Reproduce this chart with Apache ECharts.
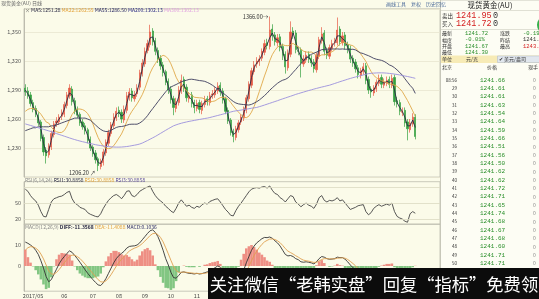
<!DOCTYPE html>
<html><head><meta charset="utf-8">
<script src="https://cdn.jsdelivr.net/npm/echarts@6/dist/echarts.min.js"></script>
<style>html,body{margin:0;padding:0;background:#fbfbe9;}#c{width:539px;height:299px;}</style>
</head><body><div id="c"></div>
<script>
// ---------------- data ----------------
const nCats = 160;
const monthTicks = [[3,'2017/05'],[15,'06'],[26,'07'],[36,'08'],[46,'09'],[56,'10'],[66,'11'],[76,'12'],[86,'2018/01'],[97,'02'],[107,'03'],[117,'04'],[128,'05'],[138,'06'],[148,'07']];
const opens=[1292,1289,1285,1277,1271,1264,1257,1241,1228,1223,
1231,1244,1256,1257,1263,1265,1274,1284,1291,1279,
1270,1265,1257,1253,1249,1239,1231,1225,1219,1211,
1215,1225,1235,1245,1253,1261,1269,1267,1259,1269,
1283,1289,1281,1286,1293,1307,1317,1331,1337,1351,
1341,1331,1323,1316,1309,1299,1291,1281,1271,1277,
1289,1301,1293,1281,1285,1277,1271,1277,1269,1275,
1281,1277,1285,1285,1289,1295,1289,1281,1269,1259,
1247,1241,1249,1257,1261,1269,1281,1295,1309,1317,
1319,1323,1329,1339,1335,1353,1347,1339,1345,1335,
1327,1313,1327,1351,1349,1331,1331,1317,1321,1327,
1323,1319,1311,1325,1341,1349,1331,1325,1333,1339,
1339,1353,1339,1347,1337,1333,1323,1319,1313,1305,
1309,1315,1301,1291,1287,1291,1297,1303,1295,1297,
1301,1295,1303,1279,1277,1267,1269,1257,1249,1255,
1262];
const closes=[1288,1284,1276,1270,1265,1256,1240,1226,1222,1232,
1245,1255,1258,1262,1266,1275,1285,1292,1278,1268,
1264,1256,1252,1248,1238,1230,1224,1218,1212,1216,
1226,1236,1246,1254,1262,1268,1266,1260,1270,1284,
1288,1282,1285,1292,1308,1318,1330,1338,1350,1340,
1330,1322,1315,1308,1298,1290,1280,1272,1278,1290,
1300,1292,1282,1284,1276,1272,1276,1270,1276,1280,
1278,1284,1286,1290,1294,1288,1280,1268,1258,1246,
1242,1250,1256,1262,1270,1282,1296,1310,1316,1320,
1322,1330,1338,1336,1352,1346,1340,1344,1334,1326,
1314,1328,1350,1348,1332,1330,1318,1322,1326,1322,
1318,1312,1326,1342,1348,1330,1326,1334,1338,1340,
1352,1340,1346,1336,1332,1322,1318,1312,1306,1310,
1314,1300,1290,1288,1292,1298,1302,1296,1298,1300,
1296,1302,1278,1276,1268,1268,1256,1250,1256,1262,
1241.95];
const highs=[1296,1293,1288,1280,1274,1267,1259,1244,1231,1235,
1248,1258,1262,1265,1270,1278,1288,1296,1294,1282,
1273,1267,1260,1256,1251,1242,1233,1228,1221,1219,
1229,1239,1249,1257,1266,1272,1273,1270,1274,1288,
1292,1292,1289,1296,1311,1322,1334,1342,1357.5,1354,
1344,1334,1326,1319,1311,1302,1294,1284,1282,1294,
1306,1304,1296,1288,1288,1280,1280,1280,1279,1284,
1284,1288,1290,1293,1298,1298,1292,1283,1272,1261,
1250,1253,1259,1265,1273,1285,1299,1313,1320,1324,
1326,1333,1342,1343,1366,1358,1350,1348,1348,1338,
1330,1332,1361,1355,1352,1335,1334,1326,1330,1330,
1326,1322,1329,1345,1355,1352,1334,1337,1342,1344,
1365,1356,1350,1350,1340,1336,1326,1322,1316,1313,
1318,1318,1304,1294,1295,1301,1306,1306,1302,1304,
1304,1306,1306,1283,1280,1272,1272,1260,1260,1266,
1265];
const lows=[1284,1281,1273,1267,1262,1253,1237,1222,1214,1220,
1228,1241,1252,1254,1259,1262,1271,1281,1274,1265,
1261,1253,1249,1244,1235,1227,1221,1214,1206.2,1208,
1212,1222,1232,1242,1250,1258,1262,1256,1256,1266,
1279,1278,1278,1283,1290,1304,1314,1328,1334,1336,
1326,1318,1311,1304,1295,1286,1276,1264,1267,1274,
1286,1288,1278,1277,1272,1266,1268,1266,1265,1272,
1274,1274,1281,1282,1286,1284,1276,1265,1255,1243,
1236,1238,1246,1254,1258,1266,1278,1292,1306,1313,
1315,1320,1326,1332,1332,1341,1336,1335,1330,1321,
1307,1310,1324,1343,1328,1326,1303,1314,1318,1318,
1314,1308,1308,1322,1338,1326,1322,1322,1330,1335,
1336,1336,1336,1332,1328,1318,1314,1308,1302,1302,
1306,1296,1286,1282,1284,1288,1294,1292,1292,1294,
1292,1292,1274,1272,1264,1263,1252,1238,1246,1252,
1239];
const ma5=[1290,1286,1280,1273,1268,1261,1250,1235,1225,1227,
1238,1250,1256,1260,1264,1270,1279,1287,1285,1274,
1266,1260,1254,1250,1243,1234,1227,1221,1215,1214,
1220,1230,1240,1250,1258,1265,1267,1263,1265,1276,
1286,1285,1284,1288,1299,1312,1324,1334,1344,1345,
1336,1326,1318,1312,1303,1294,1285,1276,1275,1283,
1294,1296,1287,1283,1280,1274,1274,1273,1273,1278,
1279,1281,1285,1288,1292,1291,1284,1275,1263,1252,
1244,1246,1253,1259,1266,1276,1289,1303,1313,1318,
1321,1326,1334,1337,1344,1349,1343,1342,1339,1330,
1320,1321,1339,1349,1340,1331,1324,1320,1324,1324,
1320,1315,1319,1334,1345,1339,1328,1330,1336,1339,
1346,1346,1343,1341,1334,1327,1320,1315,1309,1308,
1312,1307,1295,1289,1290,1295,1300,1299,1297,1299,
1298,1299,1290,1277,1272,1268,1262,1253,1253,1259,
1251.28];
const ma22=[1268,1270,1271,1271,1270,1268,1265,1261,1257,1255.9,
1251.6,1248.7,1246.9,1246.1,1246.2,1248.1,1252.6,1259.2,1264.8,1268.4,
1270.3,1270.4,1269.8,1268.4,1265.6,1261.1,1255,1247.6,1241,1235.8,
1232,1230,1229.4,1230,1232.4,1236.2,1240.4,1244.6,1250.4,1257.2,
1263.4,1268,1271.9,1275.7,1280.3,1285.3,1291.7,1299.5,1307.5,1313.1,
1317.3,1321.3,1324.3,1325.9,1324.9,1322.1,1317.1,1310.5,1303.3,1298.3,
1295.3,1292.3,1289,1286.6,1284.4,1282.6,1282.2,1282,1281.8,1280.8,
1278.6,1277.8,1278.2,1278.8,1280.6,1282.2,1282.6,1282.4,1280.6,1277.2,
1273.6,1270.2,1267.2,1264.4,1262,1261.4,1263,1267.2,1273,1280.4,
1288.4,1296.4,1304.6,1312,1320.2,1326.6,1331,1334.4,1336.2,1336.8,
1336,1335.8,1337,1338.2,1336.2,1334.6,1332.4,1330.2,1329.4,1329,
1329.4,1327.8,1325.4,1324.8,1326.4,1326.4,1327.2,1328.4,1329.6,1331.4,
1334.8,1337.6,1339.6,1339,1337.4,1336.6,1335.8,1333.6,1330.4,1327.4,
1323.6,1319.6,1314,1309.2,1305.2,1302.8,1301.2,1299.6,1298.8,1297.8,
1296,1296.2,1295,1293.8,1291.4,1288.4,1283.8,1279.2,1274,1268.5,
1262.55];
const ma55=[1248,1249,1250,1251,1251,1252,1252,1252,1252,1252,
1253,1253,1254,1255,1256,1257,1258,1259,1260,1261,
1261,1261,1261,1261,1260,1258.9,1256.4,1253.9,1251.4,1249.3,
1247.8,1247.1,1247.3,1248.4,1249.9,1251.3,1252.1,1252.3,1252.8,1253.6,
1254.5,1254.7,1254.7,1254.7,1255.9,1257.8,1260.3,1263.5,1267.3,1270.8,
1274.3,1277.9,1281.4,1284.8,1288.2,1291,1293.1,1294.5,1295.7,1297.1,
1298.5,1299.5,1300.1,1301,1301.2,1300.8,1300.3,1299.8,1299.5,1299,
1297.9,1296.6,1294.9,1293,1290.9,1288.9,1287,1284.9,1282.7,1280.3,
1278.2,1276.6,1275.7,1275.3,1275,1274.7,1274.5,1275.2,1276.5,1277.9,
1279.7,1281.9,1284.3,1286.8,1289.8,1292.3,1294.7,1297,1298.8,1300.2,
1301,1302.5,1305.2,1308.3,1311.2,1314.4,1317.3,1320.1,1322.8,1325.1,
1326.9,1328.1,1329.2,1330.5,1331.7,1332.1,1332.2,1332.4,1332.4,1332.5,
1332.5,1332.3,1332.5,1332.2,1332.2,1332,1332.2,1331.5,1329.8,1328.4,
1327.7,1326.5,1325.5,1324.2,1322.8,1321.9,1321.3,1320.7,1319.6,1318,
1316,1314.9,1313.1,1310.8,1308.2,1305.4,1301.7,1298.2,1294.8,1291.9,
1286.5];
const ma200=[1255,1254.2,1253.4,1252.6,1251.8,1251,1250.2,1249.4,1248.6,1247.8,
1247,1246,1245,1244.1,1243.2,1242.3,1241.4,1240.5,1239.6,1238.8,
1238,1237.3,1236.6,1236,1235.3,1234.7,1234.1,1233.5,1233,1232.6,
1232.2,1231.8,1231.5,1231.3,1231.1,1231,1231,1231.1,1231.3,1231.6,
1232,1232.5,1233,1233.5,1234.2,1235.2,1236.5,1237.8,1239.2,1240.6,
1242,1243.6,1245.2,1246.8,1248.4,1250,1251.5,1253,1254,1254.9,
1255.7,1256.4,1257,1257.6,1258.1,1258.6,1259.1,1259.6,1260.1,1260.6,
1261,1261.6,1262.3,1263,1263.7,1264.4,1265.1,1265.8,1266.6,1267.3,
1268,1268.5,1268.9,1269.3,1269.8,1270.2,1270.7,1271.2,1271.6,1272,
1272.8,1273.6,1274.5,1275.4,1276.3,1277.2,1278.1,1279,1280,1280.9,
1281.8,1282.7,1283.6,1284.5,1285.5,1286.3,1287.1,1287.9,1288.7,1289.5,
1290.2,1291,1291.7,1292.4,1293.1,1293.7,1294.4,1295,1295.9,1296.8,
1297.7,1298.6,1299.5,1300.3,1301.2,1302,1302.8,1303.5,1304.2,1304.9,
1305.6,1306.3,1307,1307.3,1307.5,1307.7,1307.8,1307.8,1307.7,1307.5,
1307.2,1306.9,1306.5,1306.1,1305.6,1305.1,1304.5,1304,1303.4,1302.8,
1302.13];
const ma300Last = 1302.13;
const rsi=[76,72,64,58,54,46,34,25,24,38,
52,58,60,62,63,66,70,72,58,50,
47,42,40,38,32,29,27,25,24,30,
40,48,55,60,64,66,63,58,64,72,
73,64,62,66,72,75,78,80,82,72,
64,58,54,50,44,40,35,32,40,50,
56,50,44,46,42,40,44,42,47,50,
48,53,55,57,58,52,45,38,33,27,
26,36,44,50,57,64,71,76,78,79,
78,80,81,78,82,74,68,66,60,57,
52,58,64,62,52,48,43,47,50,46,
44,40,48,60,64,55,52,55,54,56,
60,54,56,50,44,38,40,42,45,46,
47,34,28,32,40,44,47,44,46,48,
46,50,34,25,22,20,16,14,30,34,
30.8858];
const dif=[11.4,10.8,10,9,7.5,5.5,2.5,-1,-5,-7.5,
-6.5,-4,-1.5,1,3,4.5,6,7.2,6.5,5,
3.5,1.8,0,-1.8,-3.5,-5,-6.5,-7.8,-9,-9.3,
-8,-6,-3.5,-1,1.5,3.5,5,6,7,8.5,
9.3,9.5,9.6,10,11,12.5,14,15.5,16.8,17.2,
16,14,11,7.5,3.5,0.5,-3,-5.5,-5.8,-4.5,
-3,-2.8,-3.2,-3.5,-3.6,-3.8,-3.5,-3.8,-3.6,-3.2,
-2.8,-2.2,-1.5,-0.8,0,-0.5,-1.8,-3.5,-5.5,-7.5,
-9,-9,-7.5,-5,-2,1.5,4.5,7.5,9.5,11,
12,13,13.6,13.5,13.8,13.2,12,11,9.5,7.5,
5.5,4.8,5,4.5,3.5,3,2,1.8,2,1.8,
1.5,1,2,3.5,4.5,4.2,3.5,3.2,3.3,3.5,
4.2,4,4,3.2,2,0.5,-0.8,-2,-3.5,-4.2,
-4.5,-5.5,-7,-8,-8.2,-8,-7.5,-7.2,-6.8,-6.4,
-6.2,-5.8,-6.8,-8,-9.2,-10,-11.2,-12.2,-12,-11.5,
-11.3568];
const dea=[7.5,8.7,9.2,9.1,8.5,7.5,5.7,3.4,0.5,-2.3,
-3.8,-3.9,-3.1,-1.7,-0.1,1.5,3.1,4.5,5.2,5.1,
4.5,3.6,2.3,0.9,-0.6,-2.1,-3.6,-5.1,-6.5,-7.5,
-7.7,-7.1,-5.8,-4.1,-2.1,-0.1,1.7,3.2,4.5,5.9,
7.1,7.9,8.5,9,9.7,10.7,11.9,13.2,14.5,15.4,
15.6,15,13.6,11.5,8.7,5.8,2.7,-0.2,-2.2,-3,
-3,-2.9,-3,-3.2,-3.3,-3.5,-3.5,-3.6,-3.6,-3.5,
-3.2,-2.9,-2.4,-1.8,-1.2,-1,-1.3,-2.1,-3.3,-4.8,
-6.3,-7.2,-7.3,-6.5,-4.9,-2.7,-0.2,2.5,5,7.1,
8.8,10.3,11.5,12.2,12.8,12.9,12.6,12,11.1,9.8,
8.3,7.1,6.4,5.7,4.9,4.2,3.4,2.8,2.5,2.3,
2,1.7,1.8,2.4,3.1,3.5,3.5,3.4,3.4,3.4,
3.7,3.8,3.9,3.7,3.1,2.2,1.2,0.1,-1.2,-2.3,
-3.1,-3.9,-5,-6.1,-6.8,-7.2,-7.3,-7.3,-7.1,-6.9,
-6.7,-6.4,-6.5,-7,-7.8,-8.6,-9.5,-10.4,-11,-11.2,
-11.4088];
const macdHist=[7.8,4.2,1.6,-0.2,-2,-4,-6.4,-8.8,-11,-10.4,
-5.4,-0.2,3.2,5.4,6.2,6,5.8,5.4,2.6,-0.2,
-2,-3.6,-4.6,-5.4,-5.8,-5.8,-5.8,-5.4,-5,-3.6,
-0.6,2.2,4.6,6.2,7.2,7.2,6.6,5.6,5,5.2,
4.4,3.2,2.2,3,5,7,8,8.6,7.5,5,
0.8,-2,-5.2,-8,-10.4,-10.6,-11.4,-10.6,-7.2,-3,
0,0.2,-0.4,-0.6,-0.6,-0.6,0,-0.4,0,0.6,
0.8,1.4,1.8,2,2.4,1,-1,-2.8,-4.4,-5.4,
-5.4,-3.6,-0.4,3,5.8,8.4,9.4,10,9,7.8,
6.4,5.4,4.2,2.6,2,0.6,-1.2,-2,-3.2,-4.6,
-5.6,-4.6,-2.8,-2.4,-2.8,-2.4,-2.8,-2,-1,-1,
-1,-1.4,0.4,2.2,2.8,1.4,0,-0.4,-0.2,0.2,
1,0.4,0.2,-1,-2.2,-3.4,-4,-4.2,-4.6,-3.8,
-2.8,-3.2,-4,-3.8,-2.8,-1.6,-0.4,0.2,0.6,1,
1,1.2,-0.6,-2,-2.8,-2.8,-3.4,-3.6,-2,-0.6,
0.1036];
// quote panel
const bidAsk = [['卖出','1241.95','0'],['买入','1241.72','0']];
const infoRows = [[['最新','#333'],['1241.72','#2a8f2a'],['涨跌','#333'],['-0.19','#2a8f2a']],
                  [['幅度','#333'],['-0.01%','#2a8f2a'],['昨结','#333'],['1241.91','#333']],
                  [['开盘','#333'],['1241.67','#2a8f2a'],['最高','#333'],['1243.60','#d42020']],
                  [['最低','#333'],['1241.30','#2a8f2a']]];
const tickTimes=['08:56','29','30','31','32','33','34','35','36','37','38','39','40','41','42','43','44','45','46','47','48','49','50'];
const tickPrices=['1241.66','1241.61','1241.61','1241.63','1241.54','1241.64','1241.59','1241.66','1241.51','1241.56','1241.50','1241.62','1241.62','1241.72','1241.71','1241.65','1241.74','1241.68','1241.67','1241.68','1241.60','1241.71','1241.71'];

// ---------------- build ----------------
const cats = [];
for (let i = 0; i < nCats; i++) cats.push('');
monthTicks.forEach(([i, t]) => { cats[i] = t; });
const kData = opens.map((o, i) => [o, closes[i], lows[i], highs[i]]);
let hiIdx = 0, loIdx = 0;
highs.forEach((v, i) => { if (v > highs[hiIdx]) hiIdx = i; });
lows.forEach((v, i) => { if (v < lows[loIdx]) loIdx = i; });
const UP = '#e65a45', DN = '#35a040';
const FONT = '"Noto Sans CJK SC","Liberation Sans",sans-serif';
const MONO = '"Liberation Mono","DejaVu Sans Mono",monospace';
const last = a => a[a.length - 1].toFixed(2);
const last4 = a => a[a.length - 1].toFixed(4);

const G = [
  {left: 24, top: 8.8, width: 416, height: 168.3},
  {left: 24, top: 181.7, width: 416, height: 42.7},
  {left: 24, top: 224, width: 416, height: 67.2}
];
G.forEach(g => { g.show = true; g.borderColor = '#bdbcae'; g.borderWidth = 0.8; g.backgroundColor = 'transparent'; });

function xAx(idx, showLabel) {
  return {type: 'category', gridIndex: idx, data: cats, boundaryGap: true,
    axisLine: {show: false}, axisTick: {show: false}, splitLine: {show: false},
    axisLabel: {show: showLabel, interval: 0, fontSize: 5.5, color: '#444', margin: 2, fontFamily: FONT}};
}
const lineS = (name, data, color, xi) => ({type: 'line', name, data, xAxisIndex: xi, yAxisIndex: xi,
  symbol: 'none', lineStyle: {width: 0.9, color}, silent: true, z: 3});

const option = {
  animation: false,
  backgroundColor: '#fbfbe9',
  grid: G,
  xAxis: [xAx(0, false), xAx(1, false), xAx(2, true)],
  yAxis: [
    {type: 'value', gridIndex: 0, min: 1200, max: 1374, interval: 30,
     axisLine: {show: true, lineStyle: {color: '#bdbcae'}}, axisTick: {show: false},
     axisLabel: {fontSize: 5.5, color: '#555', margin: 3, showMinLabel: false, showMaxLabel: false, fontFamily: FONT},
     splitLine: {lineStyle: {color: '#e8e6cf', width: 0.8}}},
    {type: 'value', gridIndex: 1, min: 10, max: 90, interval: 10,
     axisLine: {show: true, lineStyle: {color: '#bdbcae'}}, axisTick: {show: false}, splitLine: {show: false},
     axisLabel: {fontSize: 5.5, color: '#555', margin: 3, fontFamily: FONT,
       formatter: v => (v === 50 || v === 20) ? String(v) : ''}},
    {type: 'value', gridIndex: 2, min: -12, max: 20, interval: 2,
     axisLine: {show: true, lineStyle: {color: '#bdbcae'}}, axisTick: {show: false}, splitLine: {show: false},
     axisLabel: {fontSize: 5.5, color: '#555', margin: 3, fontFamily: FONT,
       formatter: v => (v === 0 || v === 10) ? String(v) : ''}}
  ],
  series: [
    {type: 'candlestick', data: kData, xAxisIndex: 0, yAxisIndex: 0, barWidth: '58%', z: 2,
     itemStyle: {color: UP, color0: DN, borderColor: UP, borderColor0: DN, borderWidth: 0.7},
     markPoint: {symbol: 'circle', symbolSize: 1, itemStyle: {color: 'rgba(0,0,0,0)'}, silent: true,
       data: [
         {coord: [hiIdx, highs[hiIdx]], label: {show: true, position: 'left', distance: 1, formatter: highs[hiIdx].toFixed(2) + '\u2192', fontSize: 5.5, color: '#333', fontFamily: FONT}},
         {coord: [loIdx, lows[loIdx]], label: {show: true, position: 'left', distance: 2, offset: [0, 2], formatter: lows[loIdx].toFixed(2) + ' \u2197', fontSize: 5.5, color: '#333', fontFamily: FONT}}
       ]}},
    lineS('MA5', ma5, '#2a2a44', 0),
    lineS('MA22', ma22, '#e0a848', 0),
    lineS('MA55', ma55, '#3c3c5c', 0),
    lineS('MA200', ma200, '#9b90dc', 0),
    Object.assign(lineS('RSI', rsi, '#444', 1), {markLine: {silent: true, symbol: 'none', label: {show: false},
      lineStyle: {color: '#dcdac2', type: 'solid', width: 0.8}, data: [{yAxis: 20}, {yAxis: 50}, {yAxis: 80}]}}),
    {type: 'bar', data: macdHist.map(v => ({value: v, itemStyle: {color: v >= 0 ? '#ee8f84' : '#82c682'}})),
     xAxisIndex: 2, yAxisIndex: 2, barWidth: '100%', silent: true},
    lineS('DIFF', dif, '#333', 2),
    lineS('DEA', dea, '#e0a050', 2)
  ],
  graphic: []
};

const gr = option.graphic;
const T = (x, y, text, size, fill, extra) => gr.push(Object.assign({type: 'text', x, y, silent: true, z: 100,
  style: Object.assign({text, fill, font: size + 'px ' + FONT, textVerticalAlign: 'middle'}, extra || {})}));

// header
T(1, 3.5, '现货黄金(AU) 日线', 5, '#666');
T(386, 4, '画线工具', 5, '#4a6a9a');
T(411, 4, '复权', 5, '#4a6a9a');
T(426, 4, '历史回忆', 5, '#4a6a9a');
// legends
gr.push({type: 'text', x: 25, y: 10.5, z: 100, silent: true, style: {
  text: '{x|×} {a|MA5:' + last(ma5) + '} {b|MA22:' + last(ma22) + '} {c|MA55:' + last(ma55) + '} {d|MA200:' + last(ma200) + '} {e|MA300:' + ma300Last.toFixed(2) + '}',
  font: '5px ' + FONT, textVerticalAlign: 'middle',
  rich: {x: {fill: '#555', font: '5px ' + FONT}, a: {fill: '#262640', font: '5px ' + FONT}, b: {fill: '#e3a33a', font: '5px ' + FONT},
         c: {fill: '#262660', font: '5px ' + FONT}, d: {fill: '#262680', font: '5px ' + FONT}, e: {fill: '#e0a0e0', font: '5px ' + FONT}}}});
gr.push({type: 'text', x: 25, y: 180, z: 100, silent: true, style: {
  text: '{x|RSI(6,14,24)} {a|RSI1:' + last4(rsi) + '} {b|RSI2:' + last4(rsi) + '} {c|RSI3:' + last4(rsi) + '}',
  font: '5px ' + FONT, textVerticalAlign: 'middle',
  rich: {x: {fill: '#888', font: '5px ' + FONT}, a: {fill: '#262640', font: '5px ' + FONT}, b: {fill: '#e3a33a', font: '5px ' + FONT}, c: {fill: '#5a4a9a', font: '5px ' + FONT}}}});
gr.push({type: 'text', x: 25, y: 227, z: 100, silent: true, style: {
  text: '{x|MACD(12,26,9)} {a|DIFF:' + last4(dif) + '} {b|DEA:' + last4(dea) + '} {c|MACD:' + last4(macdHist) + '}',
  font: '5px ' + FONT, textVerticalAlign: 'middle',
  rich: {x: {fill: '#888', font: '5px ' + FONT}, a: {fill: '#262640', font: 'bold 5px ' + FONT}, b: {fill: '#e3a33a', font: '5px ' + FONT}, c: {fill: '#262660', font: '5px ' + FONT}}}});

// quote panel
gr.push({type: 'rect', shape: {x: 440.5, y: 0, width: 99, height: 299}, style: {fill: '#fdfdf4', stroke: '#bdbcae', lineWidth: 0.8}, z: 50, silent: true});
T(490, 5.5, '现货黄金(AU)', 7.5, '#222', {textAlign: 'center'});
gr.push({type: 'line', shape: {x1: 441, y1: 10.5, x2: 539, y2: 10.5}, style: {stroke: '#d8d8cc', lineWidth: 0.8}, z: 60, silent: true});
bidAsk.forEach((r, k) => {
  const y = 15.5 + k * 8.5;
  T(442, y, r[0], 5.5, '#333');
  gr.push({type: 'text', x: 456, y, z: 100, silent: true, style: {text: r[1], fill: '#d42020', font: '8.5px ' + MONO, textVerticalAlign: 'middle'}});
  gr.push({type: 'text', x: 493, y, z: 100, silent: true, style: {text: r[2], fill: '#333', font: '8.5px ' + MONO, textVerticalAlign: 'middle'}});
});
gr.push({type: 'line', shape: {x1: 441, y1: 29.5, x2: 539, y2: 29.5}, style: {stroke: '#d8d8cc', lineWidth: 0.8}, z: 60, silent: true});
const infoX = [442, 465, 500, 523];
infoRows.forEach((row, k) => {
  const y = 33.5 + k * 6.3;
  row.forEach((c, j) => {
    if (j % 2 === 0) T(infoX[j], y, c[0], 5, c[1]);
    else gr.push({type: 'text', x: infoX[j], y, z: 100, silent: true, style: {text: c[0], fill: c[1], font: '5.5px ' + MONO, textVerticalAlign: 'middle'}});
  });
});
gr.push({type: 'rect', shape: {x: 441, y: 55.5, width: 98, height: 7.5}, style: {fill: '#f7ebb6'}, z: 60, silent: true});
gr.push({type: 'rect', shape: {x: 497.5, y: 56, width: 42, height: 6.5}, style: {fill: '#e1e7ee', stroke: '#b5c0cc', lineWidth: 0.6}, z: 61, silent: true});
T(442, 59.3, '单位', 5, '#333');
T(466, 59.3, '元/克', 5, '#333');
T(499, 59.3, '\u2714 美元/盎司', 5, '#333');
T(442, 67, '北京', 5, '#333');
T(487, 67, '价格', 5, '#333');
T(528, 67, '现手', 5, '#333');
tickTimes.forEach((t, k) => {
  const y = 80 + k * 8.33;
  T(457, y, t, 4.5, '#333', {textAlign: 'right'});
  gr.push({type: 'text', x: 480, y, z: 100, silent: true, style: {text: tickPrices[k], fill: '#2a8f2a', font: '6px ' + MONO, textVerticalAlign: 'middle'}});
  T(533, y, '0', 5, '#888');
});
gr.push({type: 'circle', shape: {cx: 546, cy: 25, r: 9}, style: {fill: '#35b04a'}, z: 70, silent: true});
// watermark banner
gr.push({type: 'rect', shape: {x: 208, y: 268, width: 331, height: 31}, style: {fill: '#0c0c0c'}, z: 200, silent: true});
gr.push({type: 'text', x: 374, y: 284, z: 201, silent: true, style: {text: '关注微信\u201c老韩实盘\u201d回复\u201c指标\u201d免费领', fill: '#ffffff', font: '17.3px ' + FONT, textAlign: 'center', textVerticalAlign: 'middle'}});

const chart = echarts.init(document.getElementById('c'), null, {renderer: 'canvas'});
chart.setOption(option);
</script></body></html>
